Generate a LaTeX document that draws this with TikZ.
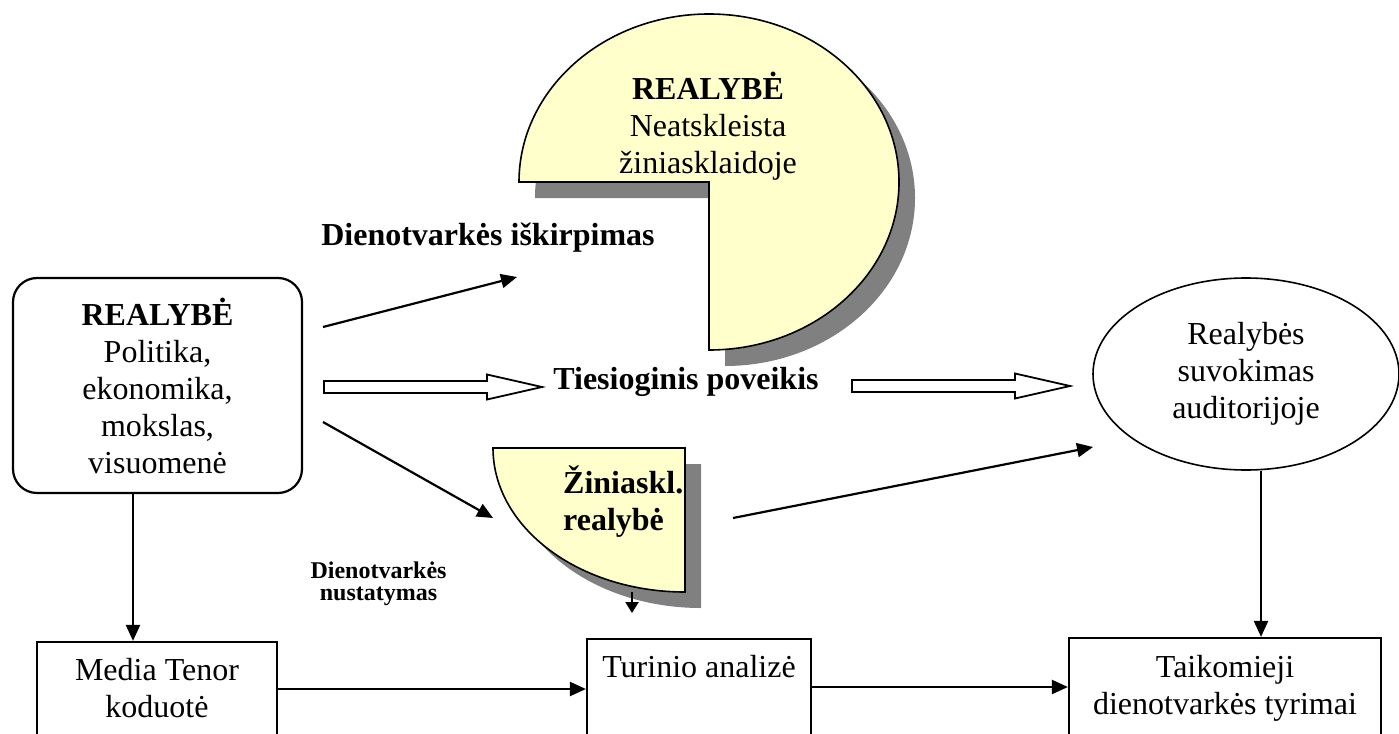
\documentclass[tikz,border=0pt]{standalone}
\usepackage{fontspec}
\setmainfont{Liberation Serif}
\usetikzlibrary{arrows.meta,shapes.geometric}
\definecolor{pieyellow}{HTML}{FFFFCC}
\definecolor{shadowgray}{HTML}{808080}
\tikzset{
  basefont/.style={font=\fontsize{32}{37}\selectfont},
  boldlbl/.style={font=\fontsize{32}{37}\selectfont\bfseries},
  boxn/.style={draw, line width=2.2pt, inner sep=0pt},
  arr/.style={line width=2.2pt, -{Triangle[length=16pt,width=14pt]}},
  smallarr/.style={line width=2.2pt, -{Triangle[length=11pt,width=13pt]}},
  shadowpart/.style={fill=shadowgray, draw=none},
  piepart/.style={fill=pieyellow, draw=black, line width=1.6pt},
  blockarrow/.style={draw=black, line width=1.8pt, fill=white, line join=miter},
}
\begin{document}
\begin{tikzpicture}[x=1pt,y=-1pt]
\useasboundingbox (0,0) rectangle (1399,733);
\clip (0,0) rectangle (1399,733);
\fill[white] (0,0) rectangle (1399,733);

% big pie (shadow + shape)
\fill[shadowpart] (725,198) -- (535,198) arc[start angle=180,end angle=-90,x radius=190pt,y radius=168pt] -- cycle;
\draw[piepart] (709,182) -- (519,182) arc[start angle=180,end angle=-90,x radius=190pt,y radius=168pt] -- cycle;
\node[basefont, align=center, inner sep=0pt] (bigtxt) at (708,126.5) {\textbf{REALYBĖ}\\Neatskleista\\žiniasklaidoje};

% small pie (shadow + shape)
\fill[shadowpart] (701,464) -- (509,464) arc[start angle=180,end angle=270,x radius=192pt,y radius=144pt] -- cycle;
\draw[piepart] (685,448) -- (493,448) arc[start angle=180,end angle=270,x radius=192pt,y radius=144pt] -- cycle;
\node[boldlbl, align=left, anchor=west, inner sep=0pt] (smalltxt) at (563,502) {Žiniaskl.\\realybė};

% left rounded box
\node[boxn, rounded corners=24pt, minimum width=289pt, minimum height=215pt, basefont, align=center] (real) at (157.5,385.5)
  {\textbf{REALYBĖ}\\Politika,\\ekonomika,\\mokslas,\\visuomenė};

% ellipse
\node[draw, ellipse, line width=1.6pt, minimum width=306pt, minimum height=192pt, inner sep=0pt, basefont, align=center] (ell) at (1246,374)
  {Realybės\\suvokimas\\auditorijoje};

% bottom boxes
\node[boxn, minimum width=240pt, minimum height=124pt] (mt) at (157,704) {};
\node[basefont, align=center, inner sep=0pt] (mttext) at (157,688.5) {Media Tenor\\koduotė};
\node[boxn, minimum width=224pt, minimum height=124pt] (tur) at (699,701) {};
\node[basefont, align=center, inner sep=0pt] (turtext) at (699,667) {Turinio analizė};
\node[boxn, minimum width=312pt, minimum height=124pt] (taik) at (1225,700) {};
\node[basefont, align=center, inner sep=0pt] (taiktext) at (1225,688) {Taikomieji\\dienotvarkės tyrimai};

% labels
\node[boldlbl, anchor=base, inner sep=0pt] (cut) at (488,245) {Dienotvarkės iškirpimas};
\node[boldlbl, anchor=base, inner sep=0pt] (direct) at (686,389) {Tiesioginis poveikis};
\node[font=\fontsize{24}{22.5}\selectfont\bfseries, align=center, inner sep=0pt] (setting) at (378.5,584) {Dienotvarkės\\nustatymas};

% block arrows
\draw[blockarrow] (324,381) -- (487,381) -- (487,374.5) -- (542,387) -- (487,399.5) -- (487,393) -- (324,393) -- cycle;
\draw[blockarrow] (852,380) -- (1015,380) -- (1015,373.5) -- (1070,386) -- (1015,398.5) -- (1015,392) -- (852,392) -- cycle;

% coordinates for free ends
\coordinate (c1s) at (323,327);
\coordinate (c1e) at (517,277);
\coordinate (c2s) at (323,422);
\coordinate (c2e) at (493,518);
\coordinate (c3s) at (733,518);
\coordinate (c3e) at (1093,447);
\coordinate (c4s) at (632,592);
\coordinate (c4e) at (632,613);
\coordinate (xa) at (133,0);
\coordinate (xb) at (1261,0);
\coordinate (ya) at (0,689);
\coordinate (yb) at (0,687);

% connectors
\draw[arr] (c1s) -- (c1e);
\draw[arr] (c2s) -- (c2e);
\draw[arr] (c3s) -- (c3e);
\draw[smallarr] (c4s) -- (c4e);
\draw[arr] (real.south -| xa) -- (mt.north -| xa);
\draw[arr] (ell.south -| xb) -- (taik.north -| xb);
\draw[arr] (mt.east |- ya) -- (tur.west |- ya);
\draw[arr] (tur.east |- yb) -- (taik.west |- yb);
\end{tikzpicture}
\end{document}
